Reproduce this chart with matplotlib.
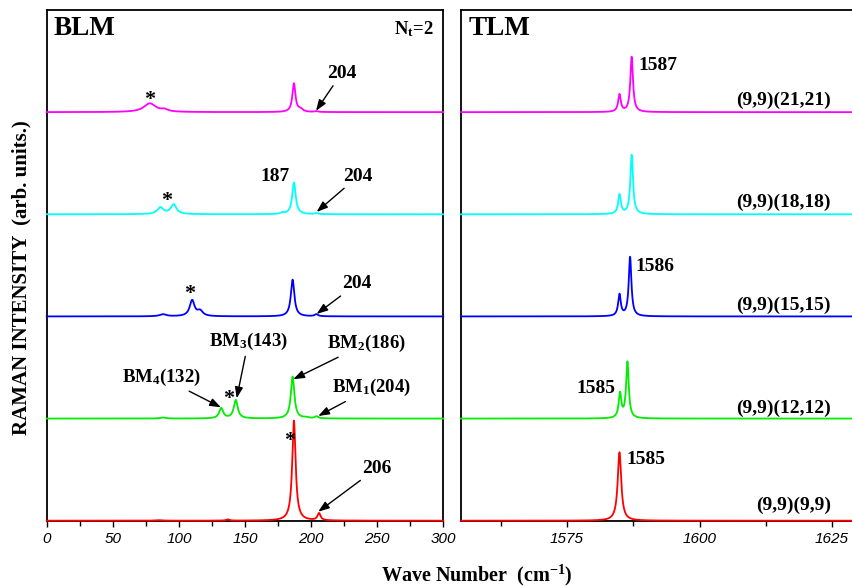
import numpy as np
import matplotlib
matplotlib.use('Agg')
import matplotlib.pyplot as plt
from matplotlib.ticker import MultipleLocator

plt.rcParams['font.family'] = ['Liberation Serif', 'DejaVu Serif']
plt.rcParams['font.weight'] = 'bold'
plt.rcParams['mathtext.fontset'] = 'custom'
plt.rcParams['mathtext.rm'] = 'Liberation Serif:bold'
plt.rcParams['mathtext.it'] = 'Liberation Serif:bold'
plt.rcParams['mathtext.bf'] = 'Liberation Serif:bold'

# tubes, bottom to top
tubes = ['(9,9)(9,9)', '(9,9)(12,12)', '(9,9)(15,15)', '(9,9)(18,18)', '(9,9)(21,21)']
colors = ['#ff0000', '#00ee00', '#0000ff', '#00ffff', '#ff00ff']

# radial breathing region: (position cm-1, height, half width)
rbm_9_9 = [(85, 0.005, 3), (137, 0.012, 1.5), (187, 0.98, 1.55), (206, 0.07, 1.4)]
rbm_12_12 = [(88, 0.01, 2.5), (132, 0.10, 1.8), (143, 0.18, 1.8), (186, 0.41, 1.6),
             (196, 0.008, 2), (204, 0.02, 1.5)]
rbm_15_15 = [(88, 0.02, 3), (110, 0.155, 2.2), (116, 0.05, 2.5), (186, 0.36, 1.6), (204, 0.02, 1.5)]
rbm_18_18 = [(86, 0.065, 2.8), (96, 0.095, 2.6), (178, 0.012, 1.5), (187, 0.31, 1.6), (204, 0.01, 1.5)]
rbm_21_21 = [(78, 0.085, 5.5), (89, 0.02, 3), (187, 0.28, 1.4), (192, 0.025, 2), (204, 0.008, 1.5)]

# G band region
g_9_9 = [(1584.9, 0.67, 0.4)]
g_12_12 = [(1585.0, 0.24, 0.3), (1586.4, 0.55, 0.3)]
g_15_15 = [(1584.9, 0.21, 0.3), (1586.9, 0.58, 0.3)]
g_18_18 = [(1584.9, 0.19, 0.3), (1587.2, 0.58, 0.3)]
g_21_21 = [(1584.9, 0.17, 0.3), (1587.2, 0.54, 0.3)]

rbm_sets = [rbm_9_9, rbm_12_12, rbm_15_15, rbm_18_18, rbm_21_21]
g_sets = [g_9_9, g_12_12, g_15_15, g_18_18, g_21_21]


def spectrum(x, peaks):
    y = np.zeros_like(x)
    for c, h, w in peaks:
        y += h / (1 + ((x - c) / w) ** 2)
    return y


x_low = np.linspace(0, 300, 3001)
x_g = np.linspace(1555, 1630, 7501)

fig = plt.figure(figsize=(8.53, 5.86), dpi=100)
W, H = 853, 586
ax1 = fig.add_axes([46.7 / W, 1 - 520.7 / H, 396.6 / W, 510.7 / H])
ax2 = fig.add_axes([461 / W, 1 - 520.7 / H, 75 * 5.3 / W, 510.7 / H])

for i in range(5):
    ax1.plot(x_low, i + spectrum(x_low, rbm_sets[i]), color=colors[i], lw=1.3, zorder=3, clip_on=False)
    ax2.plot(x_g, i + spectrum(x_g, g_sets[i]), color=colors[i], lw=1.3, zorder=3, clip_on=False)

tick_font = dict(family='Liberation Sans', style='italic', weight='normal', size=11)
for ax in (ax1, ax2):
    ax.set_ylim(0, 5)
    ax.set_yticks([])
    for s in ax.spines.values():
        s.set_linewidth(1.3)
    ax.tick_params(axis='x', which='major', direction='out', length=4, width=1, pad=4)
    ax.tick_params(axis='x', which='minor', direction='out', length=3.5, width=1)
    ax.xaxis.set_minor_locator(MultipleLocator(12.5 if ax is ax2 else 25))

ax1.set_xlim(0, 300)
ax1.set_xticks([0, 50, 100, 150, 200, 250, 300])
ax2.set_xlim(1555, 1630)
ax2.set_xticks([1575, 1600, 1625])
for ax in (ax1, ax2):
    for lab in ax.get_xticklabels():
        lab.set_fontproperties(tick_font)

fs = 14
fs_bm = 13.5
arrow = dict(arrowstyle='-|>,head_length=0.55,head_width=0.2', color='black', lw=1,
             mutation_scale=12, shrinkA=1, shrinkB=0)

ax1.text(5, 4.82, 'BLM', fontsize=19.5, ha='left', va='center')
ax1.text(277.5, 4.81, r'N$_\mathrm{t}$=2', fontsize=13.5, ha='center', va='center')

# stars
for sx, sy in [(77.5, 4.12), (90.5, 3.13), (107.9, 2.22), (137.4, 1.19), (184, 0.78)]:
    ax1.text(sx, sy, '*', fontsize=16, ha='center', va='center')

ax1.annotate('204', xy=(203.7, 4.013), xytext=(223, 4.38), fontsize=fs, ha='center', va='center', arrowprops=arrow)
ax1.text(172.7, 3.374, '187', fontsize=fs, ha='center', va='center')
ax1.annotate('204', xy=(204.2, 3.023), xytext=(235.7, 3.374), fontsize=fs, ha='center', va='center', arrowprops=arrow)
ax1.annotate('204', xy=(204.2, 2.024), xytext=(234.5, 2.318), fontsize=fs, ha='center', va='center', arrowprops=arrow)
ax1.annotate(r'BM$_4$(132)', xy=(131.8, 1.11), xytext=(87, 1.405), fontsize=fs_bm, ha='center', va='center', arrowprops=arrow)
ax1.annotate(r'BM$_3$(143)', xy=(143.7, 1.199), xytext=(152.5, 1.753), fontsize=fs_bm, ha='center', va='center', arrowprops=arrow)
ax1.annotate(r'BM$_2$(186)', xy=(186.5, 1.385), xytext=(242, 1.737), fontsize=fs_bm, ha='center', va='center', arrowprops=arrow)
ax1.annotate(r'BM$_1$(204)', xy=(205.4, 1.025), xytext=(245.8, 1.303), fontsize=fs_bm, ha='center', va='center', arrowprops=arrow)
ax1.annotate('206', xy=(205.4, 0.088), xytext=(249.6, 0.513), fontsize=fs, ha='center', va='center', arrowprops=arrow)

ax2.text(1556.4, 4.82, 'TLM', fontsize=19.5, ha='left', va='center')
ax2.text(1588.4, 4.453, '1587', fontsize=fs, ha='left', va='center')
ax2.text(1588.0, 2.488, '1586', fontsize=fs, ha='left', va='center')
ax2.text(1584.2, 1.29, '1585', fontsize=fs, ha='right', va='center')
ax2.text(1586.3, 0.595, '1585', fontsize=fs, ha='left', va='center')
tube_y = [0.154, 1.10, 2.113, 3.12, 4.111]
for i in range(5):
    ax2.text(1624.8, tube_y[i], tubes[i], fontsize=fs, ha='right', va='center')

fig.text(21 / W, 1 - 278 / H, 'RAMAN INTENSITY  (arb. units.)', fontsize=15, rotation=90, ha='center', va='center')
fig.text(477 / W, 1 - 575 / H, r'Wave Number  (cm$^{-1}$)', fontsize=14.5, ha='center', va='center')

fig.savefig('out.png', dpi=100)
